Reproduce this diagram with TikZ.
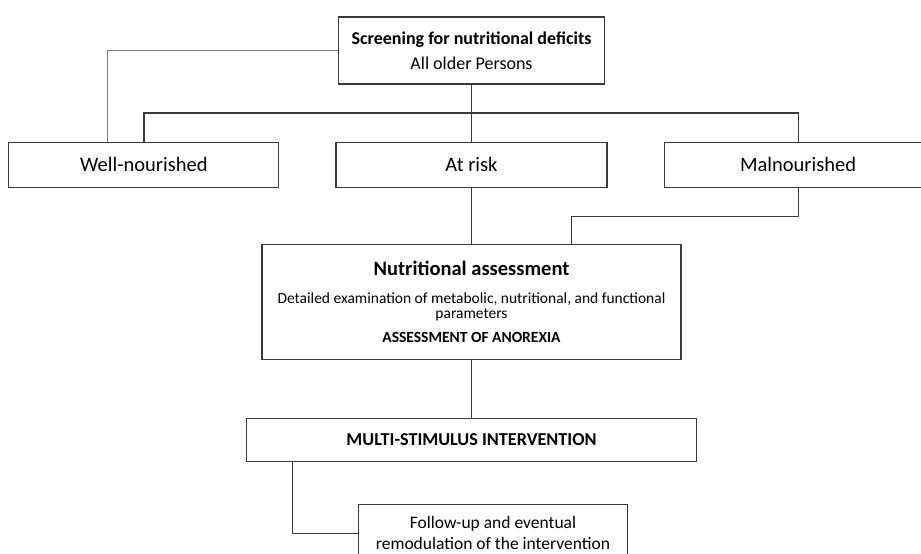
\documentclass[tikz,border=0pt]{standalone}
\usepackage{fontspec}
\setmainfont{Carlito}
\usepackage{xcolor}
\usepackage{tikz}
\usetikzlibrary{positioning, calc}

\definecolor{boxline}{HTML}{3A3A3A}
\definecolor{linkgray}{HTML}{7A7A7A}

\begin{document}
\begin{tikzpicture}[
        x=1pt, y=-1pt,
        node distance=57pt and 56pt,
        block/.style={rectangle, draw=boxline, line width=1.1pt, fill=white, minimum height=45pt, align=center, inner sep=2pt},
        link/.style={draw=boxline, line width=1.2pt},
        thinlink/.style={draw=linkgray, line width=0.8pt}
    ]
        \useasboundingbox (0,0) rectangle (921,554);

        % screening
        \node[block, minimum width=266pt, minimum height=67pt, font={\fontsize{18}{25}\selectfont}] (screening) at (471.5,50.5)
            {\textbf{Screening for nutritional deficits}\\ All older Persons};

        % three groups
        \node[block, minimum width=271pt, below=of screening, font={\fontsize{20.5}{24}\selectfont}] (atrisk) {At risk};
        \node[block, minimum width=270pt, left=of atrisk, font={\fontsize{20.5}{24}\selectfont}] (wellnourished) {Well-nourished};
        \node[block, minimum width=268pt, right=of atrisk, font={\fontsize{20.5}{24}\selectfont}] (malnourished) {Malnourished};

        % assessment and intervention
        \node[block, minimum width=419pt, minimum height=115pt, below=56pt of atrisk,
              font={\fontsize{15.5}{15}\selectfont\lineskiplimit=-20pt}] (assessment)
            {{\fontsize{20.5}{15}\selectfont\bfseries Nutritional assessment}\\[13pt]
             Detailed examination of metabolic, nutritional, and functional\\
             parameters\\[9pt]
             \textbf{ASSESSMENT OF ANOREXIA}};
        \node[block, minimum width=450pt, minimum height=43pt, below=58pt of assessment,
              font={\fontsize{18.2}{22}\selectfont\bfseries}] (intervention)
            {MULTI-STIMULUS INTERVENTION};
        \node[block, minimum width=269pt, minimum height=58pt, below=42pt of intervention, xshift=21.5pt,
              font={\fontsize{17.5}{21}\selectfont}] (followup)
            {Follow-up and eventual\\ remodulation of the intervention};

        % connectors
        \coordinate (branch) at (471.5,113);
        \draw[thinlink] (screening.west) -| ([xshift=-37pt]wellnourished.north);
        \draw[link] (screening.south) -- (atrisk.north);
        \draw[link] (wellnourished.north) |- (branch) -| (malnourished.north);
        \draw[link] (malnourished.south) -- ++(0,29) -| ([xshift=100pt]assessment.north);
        \draw[link] (atrisk.south) -- (assessment.north);
        \draw[link] (assessment.south) -- (intervention.north);
        \draw[link] ([xshift=-179pt]intervention.south) |- (followup.west);
    \end{tikzpicture}
\end{document}
